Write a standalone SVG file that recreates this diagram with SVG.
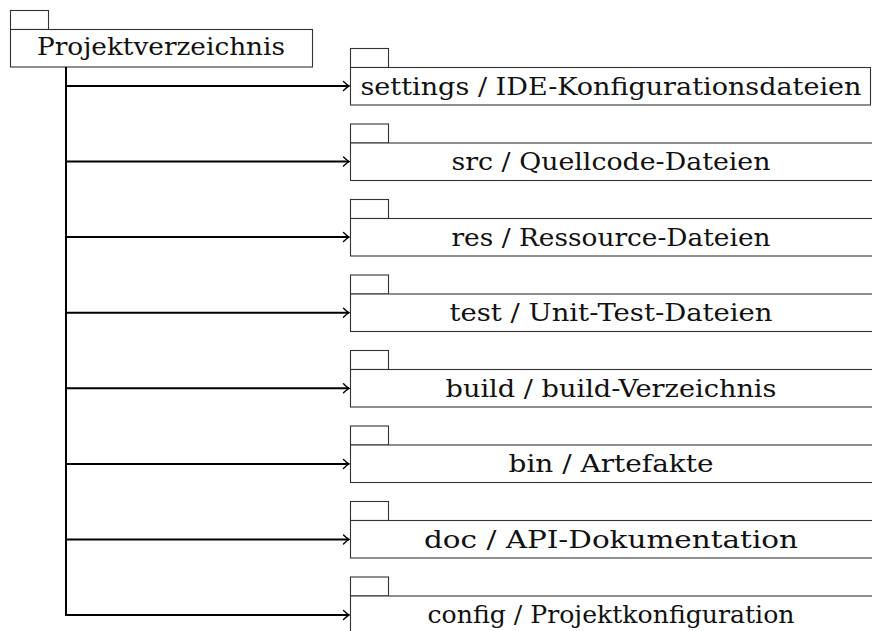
<svg xmlns="http://www.w3.org/2000/svg" width="872" height="631" viewBox="0 0 872 631">
<style>
.box{fill:#fff;stroke:#333;stroke-width:1.1}
.lbl{font-family:'DejaVu Serif','Liberation Serif',serif;font-size:25px;fill:#111}
.con{fill:none;stroke:#000;stroke-width:2}
</style>
<defs>
<marker id="ah" viewBox="-8 -6 10 12" refX="0" refY="0" markerWidth="10" markerHeight="12" markerUnits="userSpaceOnUse" orient="auto">
<path d="M -5.5 -4.5 Q -2 -1 0 0 Q -2 1 -5.5 4.5" fill="none" stroke="#000" stroke-width="1.4" stroke-linecap="round"/>
</marker>
</defs>
<rect width="872" height="631" fill="#fff"/>
<g id="root">
<rect class="box" x="10.5" y="10.5" width="38" height="19"/>
<rect class="box" x="10.5" y="29.5" width="302" height="37.5"/>
<text class="lbl" x="161" y="55" text-anchor="middle" textLength="248" lengthAdjust="spacingAndGlyphs">Projektverzeichnis</text>
</g>
<g id="connectors">
<path class="con" d="M66 67 V615"/>
<path class="con" d="M65 86 H349" marker-end="url(#ah)"/>
<path class="con" d="M65 161.6 H349" marker-end="url(#ah)"/>
<path class="con" d="M65 237.1 H349" marker-end="url(#ah)"/>
<path class="con" d="M65 312.7 H349" marker-end="url(#ah)"/>
<path class="con" d="M65 388.3 H349" marker-end="url(#ah)"/>
<path class="con" d="M65 463.9 H349" marker-end="url(#ah)"/>
<path class="con" d="M65 539.4 H349" marker-end="url(#ah)"/>
<path class="con" d="M65 615 H349" marker-end="url(#ah)"/>
</g>
<g id="settings">
<rect class="box" x="350.5" y="48.5" width="38" height="19"/>
<rect class="box" x="350.5" y="67.5" width="520" height="37.5"/>
<text class="lbl" x="611" y="94.5" text-anchor="middle" textLength="501" lengthAdjust="spacingAndGlyphs">settings / IDE-Konfigurationsdateien</text>
</g>
<g id="src">
<rect class="box" x="350.5" y="124" width="38" height="19"/>
<rect class="box" x="350.5" y="143" width="530" height="37.5"/>
<text class="lbl" x="611" y="170" text-anchor="middle" textLength="319" lengthAdjust="spacingAndGlyphs">src / Quellcode-Dateien</text>
</g>
<g id="res">
<rect class="box" x="350.5" y="199.5" width="38" height="19"/>
<rect class="box" x="350.5" y="218.5" width="530" height="37.5"/>
<text class="lbl" x="611" y="245.5" text-anchor="middle" textLength="319" lengthAdjust="spacingAndGlyphs">res / Ressource-Dateien</text>
</g>
<g id="test">
<rect class="box" x="350.5" y="275" width="38" height="19"/>
<rect class="box" x="350.5" y="294" width="530" height="37.5"/>
<text class="lbl" x="611" y="321" text-anchor="middle" textLength="323" lengthAdjust="spacingAndGlyphs">test / Unit-Test-Dateien</text>
</g>
<g id="build">
<rect class="box" x="350.5" y="350.5" width="38" height="19"/>
<rect class="box" x="350.5" y="369.5" width="530" height="37.5"/>
<text class="lbl" x="611" y="396.5" text-anchor="middle" textLength="331" lengthAdjust="spacingAndGlyphs">build / build-Verzeichnis</text>
</g>
<g id="bin">
<rect class="box" x="350.5" y="426" width="38" height="19"/>
<rect class="box" x="350.5" y="445" width="530" height="37.5"/>
<text class="lbl" x="611" y="472" text-anchor="middle" textLength="205" lengthAdjust="spacingAndGlyphs">bin / Artefakte</text>
</g>
<g id="doc">
<rect class="box" x="350.5" y="501.5" width="38" height="19"/>
<rect class="box" x="350.5" y="520.5" width="530" height="37.5"/>
<text class="lbl" x="611" y="547.5" text-anchor="middle" textLength="374" lengthAdjust="spacingAndGlyphs">doc / API-Dokumentation</text>
</g>
<g id="config">
<rect class="box" x="350.5" y="577" width="38" height="19"/>
<rect class="box" x="350.5" y="596" width="530" height="37.5"/>
<text class="lbl" x="611" y="623" text-anchor="middle" textLength="367" lengthAdjust="spacingAndGlyphs">config / Projektkonfiguration</text>
</g>
</svg>
